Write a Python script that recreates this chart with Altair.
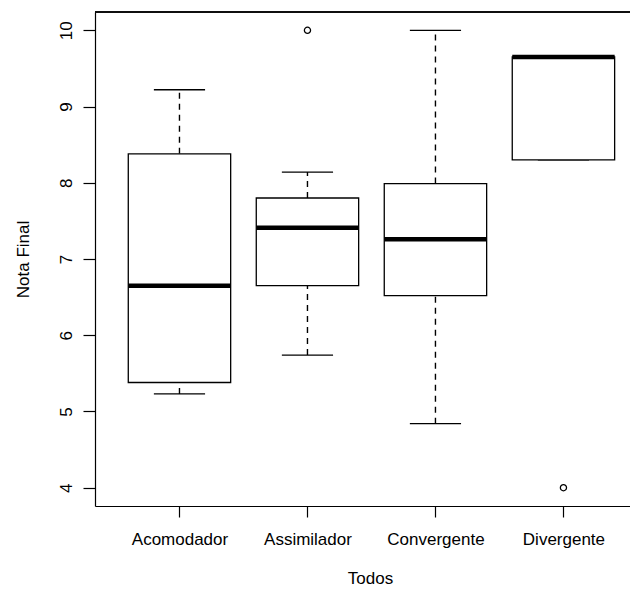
import altair as alt
import pandas as pd

categories = ["Acomodador", "Assimilador", "Convergente", "Divergente"]
lower_whisker = [5.23, 5.74, 4.84, 8.30]
q1 = [5.38, 6.65, 6.52, 8.30]
median = [6.65, 7.41, 7.26, 9.65]
q3 = [8.38, 7.80, 7.99, 9.65]
upper_whisker = [9.22, 8.14, 10.0, 9.65]
outlier_cat = ["Assimilador", "Divergente"]
outlier_val = [10.0, 4.0]
y_ticks = [4, 5, 6, 7, 8, 9, 10]

FONT = "Liberation Sans"
FS = 17

box_df = pd.DataFrame({
    "cat": categories,
    "pos": [i + 1 for i in range(len(categories))],
    "lw": lower_whisker,
    "q1": q1,
    "med": median,
    "q3": q3,
    "uw": upper_whisker,
})
out_df = pd.DataFrame({
    "cat": outlier_cat,
    "pos": [categories.index(c) + 1 for c in outlier_cat],
    "val": outlier_val,
})

label_expr = "[" + ",".join("'" + c + "'" for c in categories) + "][datum.value - 1]"

xscale = alt.Scale(domain=[0.34, 4.52], nice=False, zero=False)
yscale = alt.Scale(domain=[3.76, 10.24], nice=False, zero=False)

xaxis = alt.Axis(
    values=[1, 2, 3, 4], labelExpr=label_expr, grid=False, title="Todos",
    tickSize=11, labelPadding=27, labelBaseline="alphabetic",
    labelFont=FONT, labelFontSize=FS, labelColor="#000",
    titleFont=FONT, titleFontSize=FS, titleFontWeight="normal", titleColor="#000",
    titleBaseline="alphabetic", titleX=275, titleY=77, titleAlign="center",
    domainColor="#000", tickColor="#000", domainWidth=1.2, tickWidth=1.2,
)
yaxis = alt.Axis(
    values=y_ticks, format="d", grid=False, title="Nota Final",
    tickSize=12, labelAngle=270, labelAlign="center", labelBaseline="alphabetic",
    labelPadding=12, labelFont=FONT, labelFontSize=FS, labelColor="#000",
    titleFont=FONT, titleFontSize=FS, titleFontWeight="normal", titleColor="#000",
    titleAngle=270, titleBaseline="alphabetic", titleX=-67, titleY=247, titleAlign="center",
    domainColor="#000", tickColor="#000", domainWidth=1.2, tickWidth=1.2,
)

base = alt.Chart(box_df).transform_calculate(
    bl="datum.pos - 0.4", br="datum.pos + 0.4",
    sl="datum.pos - 0.2", sr="datum.pos + 0.2",
)

whisk_up = base.mark_rule(color="#000", strokeWidth=1.4, strokeDash=[6, 5]).encode(
    x=alt.X("pos:Q", scale=xscale, axis=xaxis),
    y=alt.Y("q3:Q", scale=yscale, axis=yaxis),
    y2="uw:Q",
)
whisk_lo = base.mark_rule(color="#000", strokeWidth=1.4, strokeDash=[6, 5]).encode(
    x=alt.X("pos:Q", scale=xscale),
    y=alt.Y("lw:Q", scale=yscale),
    y2="q1:Q",
)
staple_up = base.mark_rule(color="#000", strokeWidth=1.3).encode(
    x=alt.X("sl:Q", scale=xscale), x2="sr:Q",
    y=alt.Y("uw:Q", scale=yscale),
)
staple_lo = base.mark_rule(color="#000", strokeWidth=1.3).encode(
    x=alt.X("sl:Q", scale=xscale), x2="sr:Q",
    y=alt.Y("lw:Q", scale=yscale),
)
boxes = base.mark_rect(fill="white", stroke="#000", strokeWidth=1.3).encode(
    x=alt.X("bl:Q", scale=xscale), x2="br:Q",
    y=alt.Y("q1:Q", scale=yscale), y2="q3:Q",
)
medians = base.mark_rule(color="#000", strokeWidth=4.5).encode(
    x=alt.X("bl:Q", scale=xscale), x2="br:Q",
    y=alt.Y("med:Q", scale=yscale),
)
outliers = alt.Chart(out_df).mark_point(
    shape="circle", filled=False, color="#000", size=38, strokeWidth=1.3, opacity=1
).encode(
    x=alt.X("pos:Q", scale=xscale),
    y=alt.Y("val:Q", scale=yscale),
)
top_border = alt.Chart(box_df).mark_rule(color="#000", strokeWidth=1.2).encode(
    x=alt.value(0), x2=alt.value(535), y=alt.value(0),
)

chart = alt.layer(
    whisk_up, whisk_lo, staple_up, staple_lo, boxes, medians, outliers, top_border
).properties(
    width=535, height=494,
    autosize=alt.AutoSizeParams(type="none"),
    padding={"left": 87, "top": 4, "right": 0, "bottom": 83},
    background="white",
).configure_view(strokeWidth=0)

chart.save("out.html", embed_options={"renderer": "svg", "actions": False})
